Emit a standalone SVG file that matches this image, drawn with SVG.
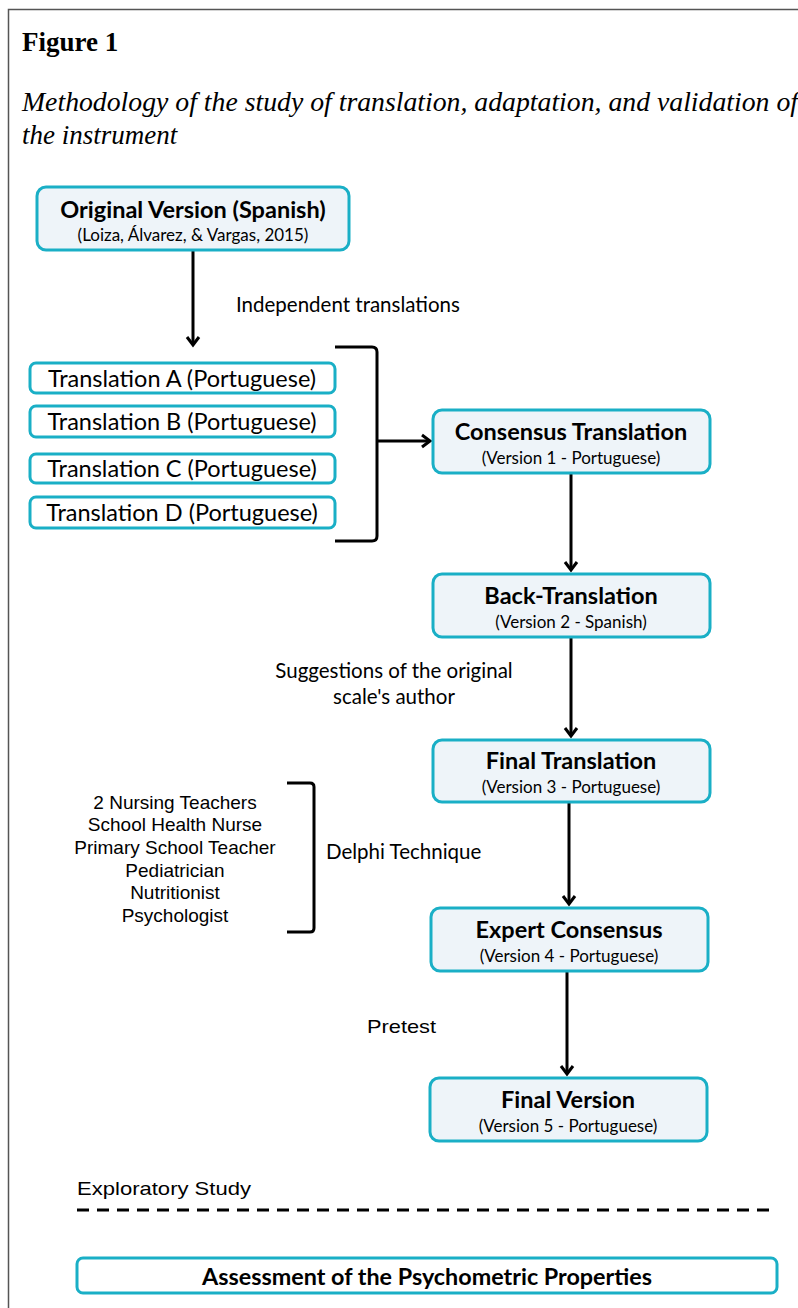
<svg xmlns="http://www.w3.org/2000/svg" width="798" height="1308" viewBox="0 0 798 1308">
<style>
.box{fill:#EEF4F9;stroke:#1AAFC6;stroke-width:3}
.tbox{fill:#FFFFFF;stroke:#1AAFC6;stroke-width:3}
.t{font-family:Lato,"Open Sans",sans-serif;font-weight:bold;font-size:23.5px;fill:#000;text-anchor:middle}
.s{font-family:Lato,"Open Sans",sans-serif;font-size:17px;fill:#000;text-anchor:middle}
.tr{font-family:Lato,"Open Sans",sans-serif;font-size:23.5px;fill:#000;text-anchor:middle}
.lab{font-family:Lato,"Open Sans",sans-serif;font-size:20.5px;fill:#000}
.hel{font-family:"Liberation Sans",Arial,sans-serif;font-size:19px;fill:#000}
.ln{fill:none;stroke:#000;stroke-width:3}
</style>
<defs>
<marker id="ah" markerUnits="userSpaceOnUse" markerWidth="16" markerHeight="16" refX="12" refY="8" orient="auto">
<path d="M4,2 L12,8 L4,14" fill="none" stroke="#000" stroke-width="3"/>
</marker>
</defs>
<rect width="798" height="1308" fill="#fff"/>
<path d="M8.5,1308 L8.5,9.5 L798,9.5" fill="none" stroke="#555" stroke-width="1.5"/>
<text x="22" y="51" font-family="'Liberation Serif',serif" font-weight="bold" font-size="27">Figure 1</text>
<text x="22" y="111" font-family="'Liberation Serif',serif" font-style="italic" font-size="27" textLength="776" lengthAdjust="spacingAndGlyphs">Methodology of the study of translation, adaptation, and validation of</text>
<text x="22" y="144" font-family="'Liberation Serif',serif" font-style="italic" font-size="27">the instrument</text>

<g id="connectors">
<line class="ln" x1="193" y1="250" x2="193" y2="345" marker-end="url(#ah)"/>
<path class="ln" d="M335,347 L372,347 Q377,347 377,352 L377,536 Q377,541 372,541 L335,541"/>
<line class="ln" x1="377" y1="441" x2="430" y2="441" marker-end="url(#ah)"/>
<line class="ln" x1="571" y1="473" x2="571" y2="570" marker-end="url(#ah)"/>
<line class="ln" x1="571" y1="637" x2="571" y2="736" marker-end="url(#ah)"/>
<path class="ln" d="M287,783 L310,783 Q314,783 314,787 L314,928 Q314,932 310,932 L287,932"/>
<line class="ln" x1="569" y1="802" x2="569" y2="904" marker-end="url(#ah)"/>
<line class="ln" x1="567" y1="971" x2="567" y2="1074" marker-end="url(#ah)"/>
<line x1="77" y1="1210" x2="770" y2="1210" stroke="#000" stroke-width="3" stroke-dasharray="12,8"/>
</g>

<g id="original">
<rect class="box" x="37" y="187" width="312" height="63" rx="9"/>
<text class="t" x="193" y="218">Original Version (Spanish)</text>
<text class="s" x="193" y="241">(Loiza, Álvarez, &amp; Vargas, 2015)</text>
</g>
<text class="lab" x="236" y="312">Independent translations</text>

<g id="transA"><rect class="tbox" x="30" y="363" width="305" height="30" rx="6"/><text class="tr" x="182" y="387">Translation A (Portuguese)</text></g>
<g id="transB"><rect class="tbox" x="30" y="406" width="305" height="31" rx="6"/><text class="tr" x="182" y="430">Translation B (Portuguese)</text></g>
<g id="transC"><rect class="tbox" x="30" y="454" width="305" height="29" rx="6"/><text class="tr" x="182" y="477">Translation C (Portuguese)</text></g>
<g id="transD"><rect class="tbox" x="30" y="497" width="305" height="31" rx="6"/><text class="tr" x="182" y="521">Translation D (Portuguese)</text></g>

<g id="consensus">
<rect class="box" x="433" y="410" width="277" height="63" rx="9"/>
<text class="t" x="571" y="440">Consensus Translation</text>
<text class="s" x="571" y="464">(Version 1 - Portuguese)</text>
</g>
<g id="back">
<rect class="box" x="433" y="574" width="277" height="63" rx="9"/>
<text class="t" x="571" y="604">Back-Translation</text>
<text class="s" x="571" y="628">(Version 2 - Spanish)</text>
</g>
<text class="lab" x="394" y="678" text-anchor="middle">Suggestions of the original</text>
<text class="lab" x="394" y="704" text-anchor="middle">scale's author</text>

<g id="final">
<rect class="box" x="433" y="740" width="277" height="62" rx="9"/>
<text class="t" x="571" y="769">Final Translation</text>
<text class="s" x="571" y="793">(Version 3 - Portuguese)</text>
</g>

<g id="experts">
<text class="hel" x="175" y="809" text-anchor="middle">2 Nursing Teachers</text>
<text class="hel" x="175" y="831" text-anchor="middle">School Health Nurse</text>
<text class="hel" x="175" y="854" text-anchor="middle">Primary School Teacher</text>
<text class="hel" x="175" y="877" text-anchor="middle">Pediatrician</text>
<text class="hel" x="175" y="899" text-anchor="middle">Nutritionist</text>
<text class="hel" x="175" y="922" text-anchor="middle">Psychologist</text>
</g>
<text class="lab" x="326" y="859">Delphi Technique</text>

<g id="expert">
<rect class="box" x="431" y="908" width="277" height="63" rx="9"/>
<text class="t" x="569" y="938">Expert Consensus</text>
<text class="s" x="569" y="962">(Version 4 - Portuguese)</text>
</g>
<text class="hel" x="367" y="1033" font-size="23" textLength="69" lengthAdjust="spacingAndGlyphs">Pretest</text>

<g id="finalversion">
<rect class="box" x="430" y="1078" width="277" height="63" rx="9"/>
<text class="t" x="568" y="1108">Final Version</text>
<text class="s" x="568" y="1132">(Version 5 - Portuguese)</text>
</g>

<text class="hel" x="77" y="1195" font-size="23" textLength="174" lengthAdjust="spacingAndGlyphs">Exploratory Study</text>

<g id="assessment">
<rect class="tbox" x="77" y="1258" width="700" height="35" rx="6"/>
<text class="t" x="427" y="1285" font-size="24" textLength="450" lengthAdjust="spacingAndGlyphs">Assessment of the Psychometric Properties</text>
</g>
</svg>
